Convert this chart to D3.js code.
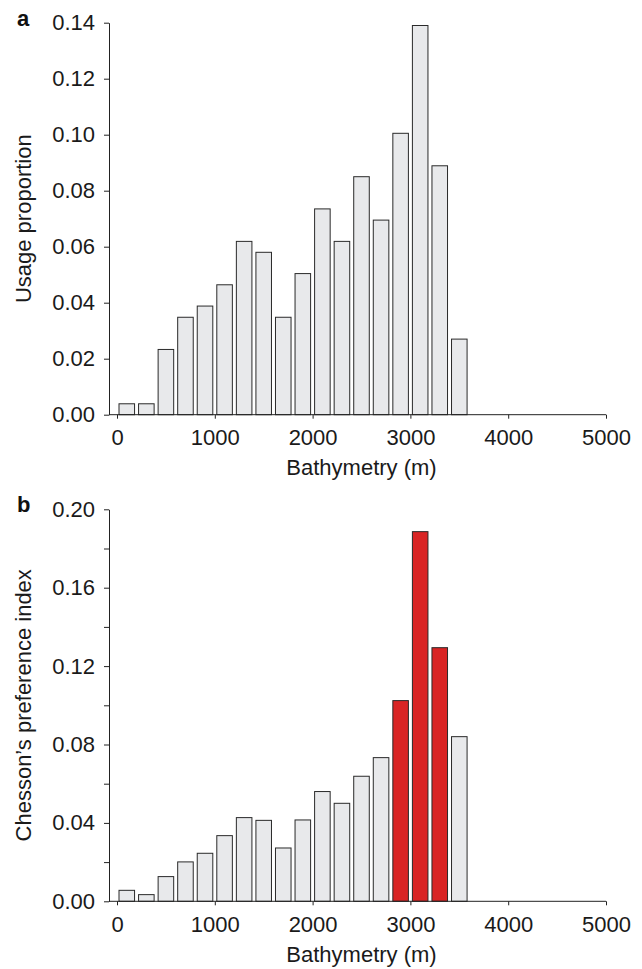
<!DOCTYPE html>
<html>
<head>
<meta charset="utf-8">
<script src="https://cdn.jsdelivr.net/npm/d3@7"></script>
<style>
  body { margin: 0; background: #fff; }
  svg { display: block; font-family: "Liberation Sans", Arial, Helvetica, sans-serif; }
  .axis path, .axis line { stroke: #222; }
  .axis text { font-size: 22px; fill: #1a1a1a; }
</style>
</head>
<body>
<svg id="svg" width="642" height="969"></svg>
<script>
// bathymetry bins (start of each 200 m bin)
const binStart = [0, 200, 400, 600, 800, 1000, 1200, 1400, 1600, 1800, 2000,
                  2200, 2400, 2600, 2800, 3000, 3200, 3400, 3600, 3800, 4000, 4200];
const binWidth = 200;
// panel a: usage proportion
const usage = [0.0039, 0.0039, 0.0233, 0.0348, 0.0388, 0.0464, 0.0619, 0.0580, 0.0348, 0.0504, 0.0735,
               0.0619, 0.0850, 0.0695, 0.1005, 0.1390, 0.0889, 0.0270, 0, 0, 0, 0];
// panel b: Chesson's preference index
const chesson = [0.0056, 0.0034, 0.0126, 0.0201, 0.0245, 0.0335, 0.0427, 0.0413, 0.0272, 0.0415, 0.0560,
                 0.0500, 0.0638, 0.0733, 0.1024, 0.1886, 0.1294, 0.0840, 0, 0, 0, 0];
// bins that are preferred (drawn in red in panel b)
const preferred = [2800, 3000, 3200];
const xTicks = [0, 1000, 2000, 3000, 4000, 5000];
const usageTicks = [0, 0.02, 0.04, 0.06, 0.08, 0.10, 0.12, 0.14];
const chessonTicks = [0, 0.02, 0.04, 0.06, 0.08, 0.10, 0.12, 0.14, 0.16, 0.18, 0.20];
const chessonLabels = [0, 0.04, 0.08, 0.12, 0.16, 0.20];

const svg = d3.select("#svg")
const axisX = 109
const x = d3.scaleLinear([0, 5000], [117, 606])
const fmt = d3.format(".2f")

function drawPanel(values, highlight, yMax, ticks, labelTicks, yTop, yBottom, title, letter, titleY) {
	const y = d3.scaleLinear([0, yMax], [yBottom, yTop])
	const g = svg.append("g")

	g.selectAll("rect").data(values).join("rect")
		.attr("x", (d, i) => x(binStart[i]) + 2)
		.attr("width", (d, i) => x(binStart[i] + binWidth) - x(binStart[i]) - 4)
		.attr("y", d => y(d))
		.attr("height", d => y(0) - y(d))
		.attr("fill", (d, i) => highlight.includes(binStart[i]) ? "#d92424" : "#e8e9eb")
		.attr("stroke", "#2a2a2a").attr("stroke-width", 1)

	// baseline from the y axis to the end of the x range
	g.append("line").attr("x1", axisX).attr("x2", x(5000))
		.attr("y1", y(0)).attr("y2", y(0)).attr("stroke", "#222")

	const xa = g.append("g").attr("class", "axis")
		.attr("transform", `translate(0,${y(0)})`)
		.call(d3.axisBottom(x).tickValues(xTicks).tickFormat(d3.format("d")).tickSize(4).tickPadding(11).tickSizeOuter(0))
	xa.select(".domain").remove()

	g.append("g").attr("class", "axis")
		.attr("transform", `translate(${axisX},0)`)
		.call(d3.axisLeft(y).tickValues(ticks).tickSize(5).tickPadding(9).tickSizeOuter(0)
			.tickFormat(d => labelTicks.some(t => Math.abs(t - d) < 1e-9) ? fmt(d) : ""))

	g.append("text").attr("transform", `translate(31,${(yTop + yBottom) / 2}) rotate(-90)`)
		.attr("text-anchor", "middle").attr("font-size", 22).attr("fill", "#1a1a1a").text(title)

	g.append("text").attr("x", x(2500)).attr("y", titleY)
		.attr("text-anchor", "middle").attr("font-size", 22).attr("fill", "#1a1a1a").text("Bathymetry (m)")

	g.append("text").attr("x", 17).attr("y", yTop + 3)
		.attr("font-size", 22).attr("font-weight", "bold").attr("fill", "#111").text(letter)
}

drawPanel(usage, [], 0.14, usageTicks, usageTicks, 22.7, 414.7, "Usage proportion", "a", 475)
drawPanel(chesson, preferred, 0.20, chessonTicks, chessonLabels, 509.3, 901.3, "Chesson\u2019s preference index", "b", 962)
</script>
</body>
</html>
